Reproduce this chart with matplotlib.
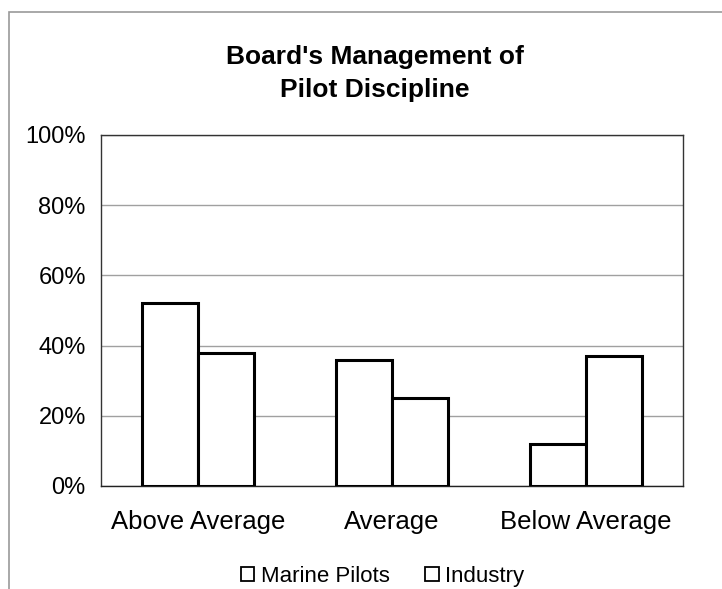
import numpy as np
import matplotlib.pyplot as plt
from matplotlib.ticker import PercentFormatter
from matplotlib.patches import Rectangle, Patch

plt.rcParams['font.family'] = ['Liberation Sans', 'DejaVu Sans']

categories = ["Above Average", "Average", "Below Average"]
marine_pilots = [52, 36, 12]
industry = [38, 25, 37]
series_names = ["Marine Pilots", "Industry"]

fig = plt.figure(figsize=(7.22, 5.89), dpi=100)
ax = fig.add_axes([0.140, 0.175, 0.806, 0.596])

x = np.arange(len(categories))
w = 0.29
ax.bar(x - w / 2, marine_pilots, w, color="white", edgecolor="black", linewidth=2.2, zorder=3)
ax.bar(x + w / 2, industry, w, color="white", edgecolor="black", linewidth=2.2, zorder=3)

ax.set_xlim(-0.5, 2.5)
ax.set_ylim(0, 100)
ax.set_yticks([0, 20, 40, 60, 80, 100])
ax.yaxis.set_major_formatter(PercentFormatter(decimals=0))
ax.set_xticks(x)
ax.set_xticklabels(categories, fontsize=18.5)
ax.tick_params(axis="y", labelsize=17, length=0, pad=11)
ax.tick_params(axis="x", length=0, pad=17)
ax.grid(axis="y", color="#a0a0a0", linewidth=1.0, zorder=0)
for s in ax.spines.values():
    s.set_linewidth(1.0)
    s.set_color("#333333")
ax.spines["bottom"].set_color("#222222")

ax.set_title("Board's Management of\nPilot Discipline", fontsize=19, fontweight="bold",
             pad=27, linespacing=1.5, x=0.47)

handles = [Patch(facecolor="white", edgecolor="black", linewidth=1.3, label=n)
           for n in series_names]
fig.legend(handles=handles, loc="lower center", bbox_to_anchor=(0.53, -0.03), ncol=2,
           frameon=False, fontsize=16, handlelength=0.6, handleheight=0.6,
           handletextpad=0.3, columnspacing=1.6)

# scanned page frame
fig.add_artist(Rectangle((0.012, -0.02), 1.0, 1.0, transform=fig.transFigure,
                         fill=False, edgecolor="#999999", linewidth=1.2))

fig.savefig("out.png", dpi=100)
